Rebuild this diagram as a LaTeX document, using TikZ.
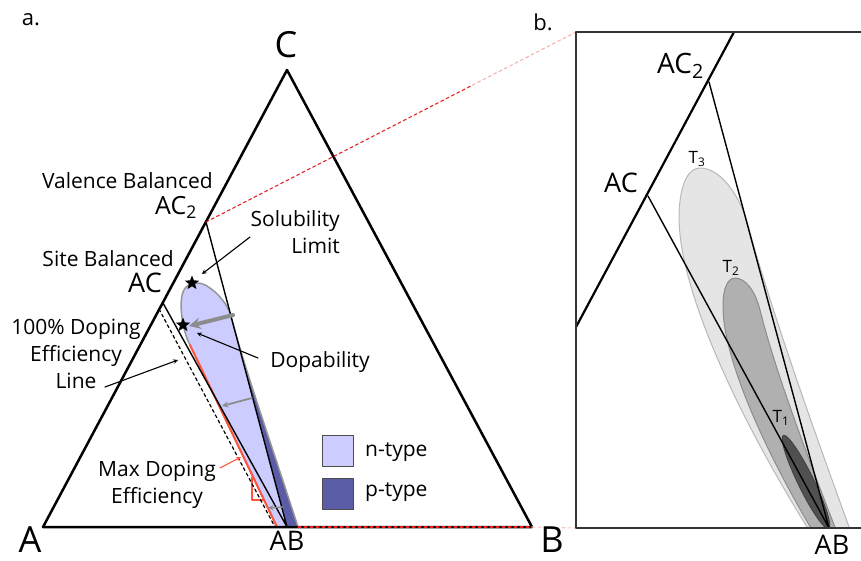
\documentclass[tikz,border=0pt]{standalone}
\usepackage{fontspec}
\setmainfont{Open Sans}
\usetikzlibrary{shapes.geometric,calc}
\definecolor{ntype}{RGB}{204,204,255}
\definecolor{ptype}{RGB}{90,92,165}
\definecolor{dropedge}{RGB}{150,150,150}
\definecolor{effred}{RGB}{255,85,60}
\definecolor{zoomred}{RGB}{235,30,30}
\definecolor{tthree}{RGB}{229,229,229}
\definecolor{ttwo}{RGB}{176,176,176}
\definecolor{tone}{RGB}{80,80,80}

\begin{document}
\begin{tikzpicture}[x=1pt, y=-1pt, line join=round, line cap=round, >=stealth]
	\tikzset{
	lbl/.style={font=\fontsize{21}{27}\selectfont, inner sep=0pt, align=center},
	vert/.style={font=\fontsize{36}{40}\selectfont, inner sep=0pt},
	cmp/.style={font=\fontsize{27}{30}\selectfont, inner sep=0pt},
	tlbl/.style={font=\fontsize{17}{20}\selectfont, inner sep=0pt},
	legbox/.style={draw=black!70, line width=1.2pt, minimum size=31pt, inner sep=0pt},
	mark5/.style={star, star points=5, star point ratio=2.3, fill=black, minimum size=15pt, inner sep=0pt},
	pointer/.style={->, line width=1.1pt},
	dopearrow/.style={->, draw=black!45, line width=#1},
	zoomline/.style={dashed, draw=zoomred, line width=1.1pt}
	}
	\useasboundingbox (0,0) rectangle (861,560);
	% ternary corners and compounds
	\coordinate (A) at (43,527);
	\coordinate (B) at (532,527);
	\coordinate (C) at (287,70);
	\coordinate (AB) at (287,527);
	\coordinate (AC) at (163,303);
	\coordinate (AC2) at (206,222);
	\coordinate (bTL) at (576,32);
	\coordinate (bBL) at (576,528);
	\coordinate (dropEnd) at (298,527);
	% n-type pocket
	\path[save path=\droppath] (277,527) -- (190,345) .. controls (182,330) and (178,300) .. (184,290) .. controls (188,282) and (200,280) .. (210,288) .. controls (220,295) and (227,305) .. (230,313) .. controls (245,370) and (270,440) .. (dropEnd) -- cycle;
	\fill[ntype, use path=\droppath];
	\begin{scope}
		\clip[use path=\droppath];
		\fill[ptype] (AC2) -- (AB) -- (330,527) -- (330,222) -- cycle;
	\end{scope}
	\draw[dropedge, line width=1.5pt, use path=\droppath];
	\draw[effred, line width=2pt] (190,345) -- (277,527);
	\draw[effred, line width=1.2pt] (252,477) -- (252,500) -- (263,500);
	\draw[dashed, line width=1.2pt] (159,309) -- (275,527);
	% triangle
	\draw[line width=2.5pt] (A) -- (B) -- (C) -- cycle;
	\draw[line width=1.4pt] (AC) -- (AB) (AC2) -- (AB);
	% zoom lines
	\draw[zoomline] (AC2) -- ($(AC2)!.72!(bTL)$);
	\draw[zoomline, draw=zoomred!35] ($(AC2)!.72!(bTL)$) -- (bTL);
	\draw[zoomline] (dropEnd) -- (B);
	\draw[zoomline, draw=zoomred!25] (B) -- (bBL);
	% stars
	\node[mark5] (s1) at (192,283) {};
	\node[mark5] (s2) at (183,325) {};
	% arrows
	\coordinate (solS) at (250,237); \coordinate (solT) at (202,274);
	\coordinate (dopS) at (258,358); \coordinate (dopT) at (197,333);
	\coordinate (effS) at (105,387); \coordinate (effT) at (178,360);
	\coordinate (maxS) at (220,468); \coordinate (maxT) at (241,457);
	\draw[pointer] (solS) -- (solT);
	\draw[pointer] (dopS) -- (dopT);
	\draw[pointer] (effS) -- (effT);
	\draw[pointer, effred] (maxS) -- (maxT);
	\coordinate (g1S) at (233,315); \coordinate (g1T) at (189,326);
	\coordinate (g2S) at (252,398); \coordinate (g2T) at (222,406);
	\coordinate (g3S) at (283,507); \coordinate (g3T) at (268,508);
	\draw[dopearrow=4pt] (g1S) -- (g1T);
	\draw[dopearrow=1.8pt] (g2S) -- (g2T);
	\draw[dopearrow=1.4pt] (g3S) -- (g3T);
	% labels
	\node[lbl, font=\fontsize{22}{26}\selectfont] (pa) at (31,20) {a.};
	\node[lbl, font=\fontsize{22}{26}\selectfont] (pb) at (543,22) {b.};
	\node[vert] (vC) at (286,45) {C};
	\node[vert] (vA) at (30,540) {A};
	\node[vert] (vB) at (552,540) {B};
	\node[cmp] (abA) at (287,541) {AB};
	\node[lbl, anchor=base east] (valence) at (213,188) {Valence Balanced};
	\node[cmp, font=\fontsize{25}{28}\selectfont, anchor=base west] (ac2A) at (155,214) {AC\textsubscript{2}};
	\node[lbl, anchor=base east] (site) at (174,266) {Site Balanced};
	\node[cmp] (acA) at (145,283) {AC};
	\node[lbl] (effline) at (76,354) {100\% Doping\\Efficiency\\Line};
	\node[lbl, align=right, anchor=east] (sol) at (340,232) {Solubility\\Limit};
	\node[lbl] (dop) at (320,362) {Dopability};
	\node[lbl] (maxeff) at (157,485) {Max Doping\\Efficiency};
	% legend
	\node[legbox, fill=ntype] (nbox) at (338,451) {};
	\node[legbox, fill=ptype] (pbox) at (338,494) {};
	\node[lbl, anchor=west] (ntxt) at (365,452) {n-type};
	\node[lbl, anchor=west] (ptxt) at (365,492) {p-type};
	% panel b
	\begin{scope}
		\clip (576,32) rectangle (861,528);
		\filldraw[fill=tthree, draw=black!28, line width=1pt] (812,535) .. controls (740,420) and (678,290) .. (679,215) .. controls (680,180) and (690,168) .. (700,168) .. controls (718,168) and (738,190) .. (748,225) .. controls (768,300) and (810,420) .. (852,535) -- cycle;
		\filldraw[fill=ttwo, draw=black!45, line width=1pt] (815,535) .. controls (770,460) and (722,360) .. (723,305) .. controls (723,288) and (728,278) .. (735,278) .. controls (745,278) and (755,290) .. (760,310) .. controls (775,370) and (805,450) .. (838,535) -- cycle;
		\filldraw[fill=tone, draw=black!75, line width=0.8pt, rotate around={-64:(806,482)}] (806,482) ellipse [x radius=52, y radius=8];
		\draw[line width=2.2pt] (734,32) -- (576,327);
		\draw[line width=1.4pt] (709,82) -- (829,528) (648,196) -- (829,528);
	\end{scope}
	\draw[black!80, line width=2pt] (861,32) -- (bTL) -- (bBL) -- (861,528);
	\node[cmp, font=\fontsize{28}{30}\selectfont, anchor=base west] (ac2B) at (657,73) {AC\textsubscript{2}};
	\node[cmp, anchor=base west] (acB) at (604,192) {AC};
	\node[tlbl] (t3) at (697,159) {T\textsubscript{3}};
	\node[tlbl] (t2) at (731,268) {T\textsubscript{2}};
	\node[tlbl] (t1) at (781,418) {T\textsubscript{1}};
	\node[cmp] (abB) at (832,545) {AB};
\end{tikzpicture}
\end{document}
